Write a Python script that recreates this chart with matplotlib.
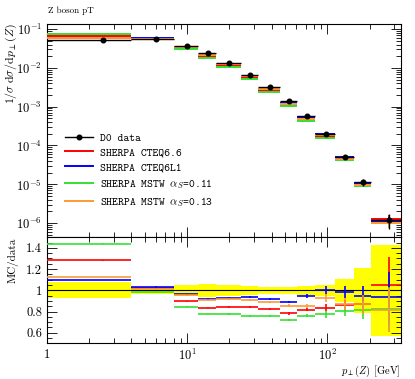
import numpy as np
import matplotlib
matplotlib.use("Agg")
import matplotlib.pyplot as plt
from matplotlib.lines import Line2D
from matplotlib.ticker import LogLocator, FixedLocator, MultipleLocator, FuncFormatter, NullFormatter

plt.rcParams['mathtext.fontset'] = 'cm'
plt.rcParams['font.family'] = ['cmr10', 'DejaVu Serif']
plt.rcParams['axes.formatter.use_mathtext'] = True

# bins (GeV)
edges = [1, 4, 8, 12, 16, 24, 32, 46, 61, 82, 113, 154, 206, 340]
centers = [2.5, 6, 10, 14, 20, 28, 39, 53.5, 71.5, 97.5, 133.5, 180, 273]

# D0 data, 1/sigma dsigma/dpT
data = [0.053, 0.056, 0.037, 0.0239, 0.0134, 0.00667, 0.00314, 0.00141,
        5.78e-4, 1.97e-4, 5.13e-5, 1.13e-5, 1.22e-6]
data_relerr = [0.074, 0.035, 0.05, 0.06, 0.05, 0.045, 0.035, 0.035,
               0.045, 0.05, 0.11, 0.21, 0.43]

# MC / data ratios
r_cteq66 = [1.283, 1.019, 0.899, 0.836, 0.843, 0.846, 0.821, 0.783, 0.818, 0.837, 0.858, 0.875, 1.05]
r_cteq6l1 = [1.097, 1.031, 0.962, 0.921, 0.925, 0.934, 0.918, 0.89, 0.95, 1.003, 0.984, 0.945, 0.937]
r_mstw011 = [1.44, 0.987, 0.845, 0.778, 0.777, 0.758, 0.758, 0.72, 0.761, 0.774, 0.808, 0.815, 0.826]
r_mstw013 = [1.126, 1.01, 0.953, 0.906, 0.918, 0.912, 0.887, 0.855, 0.855, 0.931, 0.871, 0.868, 0.814]
mc_relerr = [0.003, 0.005, 0.005, 0.006, 0.008, 0.01, 0.012, 0.015, 0.02, 0.04, 0.06, 0.1, 0.25]

labels = ["SHERPA CTEQ6.6", "SHERPA CTEQ6L1",
          r"SHERPA MSTW $\alpha_S$=0.11", r"SHERPA MSTW $\alpha_S$=0.13"]
colors = ["#ff0000", "#0000ff", "#33e033", "#ff9933"]

edges = np.array(edges)
centers = np.array(centers)
data = np.array(data)
xlo = centers - edges[:-1]
xhi = edges[1:] - centers

fig = plt.figure(figsize=(4.15, 3.79), dpi=100)
ax = fig.add_axes([0.1133, 0.374, 0.853, 0.563])
axr = fig.add_axes([0.1133, 0.094, 0.853, 0.280], sharex=ax)

ratios = [r_cteq66, r_cteq6l1, r_mstw011, r_mstw013]
for r, c in zip(ratios, colors):
    r = np.array(r)
    mc = data * r
    ax.errorbar(centers, mc, xerr=[xlo, xhi], yerr=mc * np.array(mc_relerr),
                fmt='none', ecolor=c, elinewidth=1.4, zorder=3)
    axr.errorbar(centers, r, xerr=[xlo, xhi], yerr=r * np.array(mc_relerr),
                 fmt='none', ecolor=c, elinewidth=1.2, zorder=3)

ax.errorbar(centers, data, xerr=[xlo, xhi], yerr=data * np.array(data_relerr),
            fmt='o', color='black', ms=3.3, elinewidth=1.0, zorder=4)

# ratio band
band_lo = 1 - np.array(data_relerr)
band_hi = 1 + np.array(data_relerr)
axr.fill_between(edges, np.append(band_lo, band_lo[-1]), np.append(band_hi, band_hi[-1]),
                 step='post', color='#ffff00', lw=0, zorder=1)
axr.axhline(1.0, color='black', lw=0.8, zorder=2)

ax.set_xscale('log')
ax.set_yscale('log')
ax.set_xlim(1, 335)
ax.set_ylim(4.3e-7, 0.137)
axr.set_ylim(0.5, 1.5)

def xfmt(v, pos):
    if abs(v - 1) < 1e-9:
        return r"$1$"
    return r"$10^{%d}$" % int(round(np.log10(v)))

for a in (ax, axr):
    a.tick_params(which='both', direction='in', top=True, right=True, labelsize=9)
    a.tick_params(which='major', length=7, width=0.6)
    a.tick_params(which='minor', length=3.5, width=0.6)
    for s in a.spines.values():
        s.set_linewidth(0.8)

ax.yaxis.set_major_locator(LogLocator(base=10, numticks=20))
ax.yaxis.set_minor_locator(LogLocator(base=10, subs=np.arange(2, 10), numticks=20))
ax.yaxis.set_minor_formatter(NullFormatter())
plt.setp(ax.get_xticklabels(), visible=False)

axr.xaxis.set_major_locator(FixedLocator([1, 10, 100]))
axr.xaxis.set_major_formatter(FuncFormatter(xfmt))
axr.xaxis.set_minor_locator(LogLocator(base=10, subs=np.arange(2, 10), numticks=20))
axr.xaxis.set_minor_formatter(NullFormatter())
axr.yaxis.set_major_locator(FixedLocator([0.6, 0.8, 1.0, 1.2, 1.4]))
axr.yaxis.set_major_formatter(FuncFormatter(lambda v, p: "%g" % v))
axr.yaxis.set_minor_locator(MultipleLocator(0.05))

ax.set_ylabel(r"$1/\sigma\;\mathrm{d}\sigma/\mathrm{d}p_\perp(Z)$", fontsize=8.5, loc='top')
axr.set_ylabel("MC/data", fontsize=8, loc='top')
axr.set_xlabel(r"$p_\perp(Z)$ [GeV]", fontsize=7.5, loc='right')
ax.yaxis.set_label_coords(-0.08, 1.0)
axr.yaxis.set_label_coords(-0.08, 1.0)
axr.xaxis.set_label_coords(1.0, -0.19)

fig.text(0.115, 0.971, "Z boson pT", fontsize=6.5, ha='left', va='center')

handles = [Line2D([], [], color='black', marker='o', ms=3.3, lw=1.0)]
handles += [Line2D([], [], color=c, lw=1.4) for c in colors]
leg = ax.legend(handles, ["D0 data"] + labels, loc='upper left',
                bbox_to_anchor=(0.051, 0.489), frameon=False,
                borderaxespad=0, borderpad=0,
                handlelength=2.5, labelspacing=0.35, handletextpad=0.6,
                prop={'family': ['cmtt10', 'DejaVu Sans Mono'], 'size': 8})

fig.savefig("out.png", dpi=100)
